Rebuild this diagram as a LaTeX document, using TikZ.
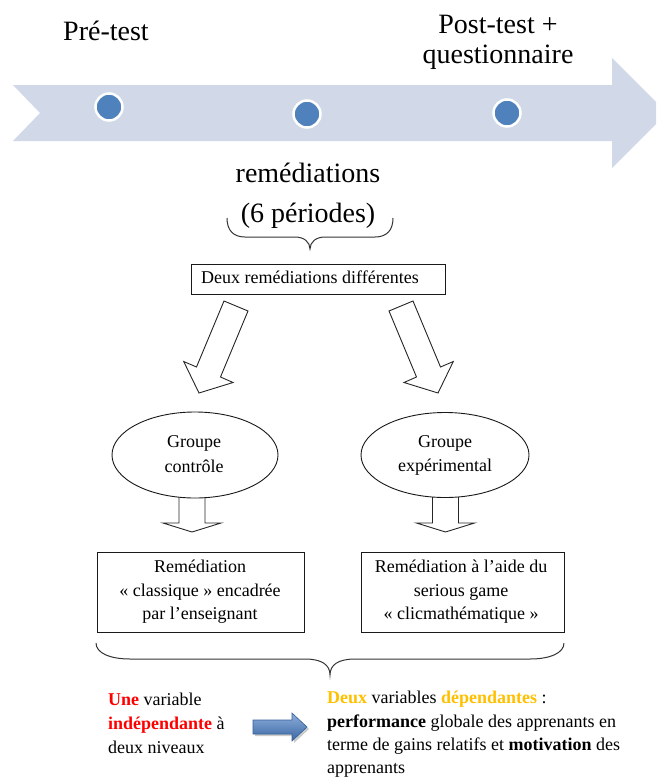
\documentclass[tikz,border=0pt]{standalone}
\usepackage{fontspec}
\setmainfont{Liberation Serif}
\usetikzlibrary{shapes.geometric}
\definecolor{band}{HTML}{D1D9E8}
\definecolor{dotblue}{HTML}{4F81BD}
\definecolor{gold}{HTML}{FFC000}
\definecolor{arrowtop}{HTML}{8EAEDB}
\definecolor{arrowbot}{HTML}{3A67A3}
\definecolor{arrowedge}{HTML}{35609A}
\begin{document}
\begin{tikzpicture}[x=1pt,y=-1pt,
  big/.style={font=\fontsize{28}{30}\selectfont, inner sep=0pt, anchor=base},
  body/.style={font=\fontsize{18}{22}\selectfont, inner sep=0pt, anchor=base},
  bodyl/.style={body, anchor=base west},
  outline/.style={draw=black!90, line width=0.9pt},
  blockarrow/.style={draw=black!85, line width=0.9pt, line join=miter},
  bracestyle/.style={draw=black!80, line width=1pt},
  tdot/.style={circle, fill=dotblue, draw=white, line width=2.5pt, minimum size=27pt, inner sep=0pt}]
\useasboundingbox (0,0) rectangle (656,779);
\clip (0,0) rectangle (656,779);
% timeline band
\fill[band] (13,85) -- (612,85) -- (612,58) -- (667,113) -- (612,168) -- (612,141) -- (13,141) -- (40,113) -- cycle;
\node[tdot] (d1) at (109,107) {};
\node[tdot] (d2) at (307,114) {};
\node[tdot] (d3) at (507,113) {};
% top texts
\node[big] (pre) at (106,40) {Pré-test};
\node[big] (post) at (498,33) {Post-test +};
\node[big] (quest) at (498,63) {questionnaire};
\node[big] (rem) at (308,182) {remédiations};
\node[big] (per) at (308,222) {(6 périodes)};
% small brace
\draw[bracestyle] (227,218) .. controls (227,230) and (233,237) .. (245,237)
  -- (295,237) .. controls (304,237) and (310,242) .. (310,249)
  .. controls (310,242) and (316,237) .. (325,237)
  -- (375,237) .. controls (387,237) and (393,230) .. (393,218);
% box
\node[outline, minimum width=254pt, minimum height=30pt, inner sep=0pt] (deux) at (318,279) {};
\node[bodyl] (deuxt) at (201,283) {Deux remédiations différentes};
% block arrows
\draw[blockarrow] (224,301) -- (248,311) -- (220.5,377) -- (233,382.5) -- (199,393) -- (183.7,361.5) -- (196.5,367) -- cycle;
\draw[blockarrow] (413,301) -- (389,311) -- (416.5,377) -- (404,382.5) -- (438,393) -- (453.3,361.5) -- (440.5,367) -- cycle;
% small arrows
\draw[blockarrow] (179,497) -- (179,523) -- (163,523) -- (192,532) -- (221,523) -- (205,523) -- (205,497);
\draw[blockarrow] (432.5,497) -- (432.5,523) -- (416.5,523) -- (445.5,532) -- (474.5,523) -- (458.5,523) -- (458.5,497);
% ellipses
\node[ellipse, outline, minimum width=166pt, minimum height=86pt, inner sep=0pt] (gc) at (195,455) {};
\node[ellipse, outline, minimum width=168pt, minimum height=85pt, inner sep=0pt] (ge) at (445,455) {};
\node[body] (gct1) at (194,447) {Groupe};
\node[body] (gct2) at (194,472) {contrôle};
\node[body] (get1) at (445,447) {Groupe};
\node[body] (get2) at (445,471) {expérimental};
% remediation boxes
\node[outline, minimum width=207pt, minimum height=80pt, inner sep=0pt] (rc) at (200.5,592) {};
\node[outline, minimum width=203pt, minimum height=80pt, inner sep=0pt] (re) at (462.5,592) {};
\node[body] (rct1) at (200,572) {Remédiation};
\node[body] (rct2) at (200,596) {« classique » encadrée};
\node[body] (rct3) at (200,619) {par l’enseignant};
\node[body] (ret1) at (461,572) {Remédiation à l’aide du};
\node[body] (ret2) at (461,596) {serious game};
\node[body] (ret3) at (461,619) {« clicmathématique »};
% big brace
\draw[bracestyle] (96,643) .. controls (96,653) and (110,659) .. (130,659)
  -- (305,659) .. controls (322,659) and (330,665) .. (330,675)
  .. controls (330,665) and (338,659) .. (355,659)
  -- (530,659) .. controls (550,659) and (564,653) .. (564,643);
% blue arrow
\fill[black!35, opacity=0.6] (255,722) -- (294,722) -- (294,715) -- (309,729) -- (294,743) -- (294,736) -- (255,736) -- cycle;
\draw[arrowedge, line width=0.6pt, top color=arrowtop, bottom color=arrowbot] (253,720) -- (292,720) -- (292,713) -- (307,727) -- (292,741) -- (292,734) -- (253,734) -- cycle;
% bottom texts
\node[bodyl] (l1) at (108,705) {\textcolor{red}{\textbf{Une}} variable};
\node[bodyl] (l2) at (108,729) {\textcolor{red}{\textbf{indépendante}} à};
\node[bodyl] (l3) at (108,753) {deux niveaux};
\node[bodyl] (r1) at (327,703) {\textcolor{gold}{\textbf{Deux}} variables \textcolor{gold}{\textbf{dépendantes}} :};
\node[bodyl] (r2) at (327,727) {\textbf{performance} globale des apprenants en};
\node[bodyl] (r3) at (327,750) {terme de gains relatifs et \textbf{motivation}  des};
\node[bodyl] (r4) at (327,773) {apprenants};
\end{tikzpicture}
\end{document}
